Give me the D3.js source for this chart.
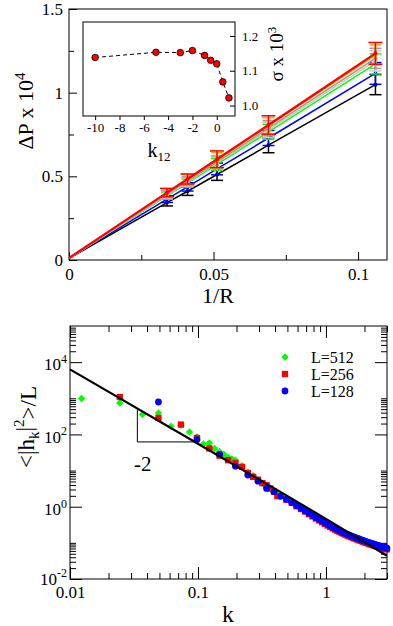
<!DOCTYPE html>
<html><head><meta charset="utf-8">
<script src="https://cdn.jsdelivr.net/npm/d3@7"></script>
<style>
body{margin:0;background:#fff}
svg{display:block}
text{font-family:"Liberation Serif","DejaVu Serif","Times New Roman",serif;fill:#000}
</style>
</head><body>
<svg id="c" width="393" height="626" style="font-family:'Liberation Serif','DejaVu Serif',serif"></svg>
<script>
// ---------- top panel data ----------
const invR = [0.0339, 0.041, 0.0512, 0.069, 0.106];
const seriesColors = ["#000000", "#0000ff", "#00ff00", "#c8c8c8", "#bc8f8f", "#ffa500", "#ff0000"];
const fitIntercept = [0.01, 0.01, 0.01, 0.01, 0.01, 0.01, 0.012];
const dpBlack  = [0.343, 0.411, 0.511, 0.686, 1.048];
const dpBlue   = [0.364, 0.437, 0.544, 0.729, 1.115];
const dpGreen  = [0.383, 0.459, 0.571, 0.766, 1.172];
const dpGrey   = [0.388, 0.466, 0.580, 0.778, 1.190];
const dpBrown  = [0.393, 0.472, 0.587, 0.788, 1.205];
const dpOrange = [0.400, 0.480, 0.597, 0.801, 1.225];
const dpRed    = [0.403, 0.484, 0.602, 0.807, 1.235];
const errBlack  = [0.02, 0.025, 0.035, 0.045, 0.06];
const errBlue   = [0.02, 0.025, 0.035, 0.045, 0.065];
const errGreen  = [0.02, 0.025, 0.035, 0.045, 0.06];
const errGrey   = [0.02, 0.025, 0.035, 0.045, 0.06];
const errBrown  = [0.02, 0.025, 0.035, 0.045, 0.06];
const errOrange = [0.025, 0.03, 0.045, 0.05, 0.06];
const errRed    = [0.025, 0.03, 0.05, 0.055, 0.065];
const topXTicks = [0, 0.05, 0.1];
const topXMinor = [0.025, 0.075];
const topYTicks = [0, 0.5, 1, 1.5];
const topYMinor = [0.25, 0.75, 1.25];

// inset
const k12 = [-10, -5, -3, -2, -1, -0.5, 0, 0.5, 1];
const sigma = [1.138, 1.153, 1.152, 1.158, 1.144, 1.130, 1.120, 1.068, 1.022];
const insetXTicks = [-10, -8, -6, -4, -2, 0];
const insetYTicks = [1.0, 1.1, 1.2];

// ---------- bottom panel data ----------
const k512 = [0.0123, 0.0245, 0.0368, 0.0491, 0.0614, 0.0736, 0.0859, 0.0982, 0.1104, 0.1227, 0.135, 0.1473, 0.1595, 0.1718, 0.1841, 0.1963, 0.2209, 0.2454, 0.27, 0.2945, 0.319, 0.3436, 0.3682, 0.3927, 0.4172, 0.4418];
const y512 = [980, 740, 355, 390, 169, 180, 117, 85, 54, 58, 41, 33, 28, 23, 21, 19.4, 13.5, 9.2, 7.2, 5.6, 4.4, 3.6, 3.1, 2.6, 2.2, 1.95];
const k256 = [0.0245, 0.0491, 0.0736, 0.0982, 0.1227, 0.1473, 0.1718, 0.1963, 0.2209, 0.2454, 0.27, 0.2945, 0.319, 0.3436, 0.3682, 0.3927, 0.4172];
const y256 = [1086, 286, 187, 80, 41, 26, 19.4, 16.2, 12.6, 8.5, 6.7, 5.6, 4.5, 3.9, 3.2, 2.6, 1.96];
const k128 = [0.0491, 0.0982, 0.1473, 0.1963, 0.2454, 0.2945, 0.3436, 0.3927, 0.4418];
const y128 = [790, 72, 28, 13.2, 7.5, 5.1, 3.2, 2.6, 1.96];
const kBand = [0.491, 0.540, 0.589, 0.638, 0.687, 0.736, 0.785, 0.834, 0.884, 0.933, 0.982, 1.031, 1.080, 1.129, 1.178, 1.227, 1.276, 1.325, 1.374, 1.423, 1.473, 1.522, 1.571, 1.620, 1.669, 1.718, 1.767, 1.816, 1.865, 1.914, 1.963, 2.012, 2.062, 2.111, 2.160, 2.209, 2.258, 2.307, 2.356, 2.405, 2.454, 2.503, 2.552, 2.601, 2.651, 2.700, 2.749, 2.798, 2.847, 2.896, 2.945, 2.994];
const yBand128 = [1.62, 1.32, 1.08, 0.909, 0.773, 0.664, 0.576, 0.506, 0.448, 0.400, 0.359, 0.325, 0.296, 0.271, 0.251, 0.232, 0.217, 0.203, 0.191, 0.181, 0.171, 0.163, 0.156, 0.149, 0.143, 0.138, 0.132, 0.128, 0.123, 0.119, 0.1155, 0.112, 0.108, 0.105, 0.102, 0.0994, 0.0969, 0.0945, 0.0922, 0.0901, 0.0880, 0.0862, 0.0844, 0.0828, 0.0811, 0.0796, 0.0781, 0.0766, 0.0753, 0.0739, 0.0726, 0.0714];
const yBand256 = [1.56, 1.27, 1.03, 0.864, 0.734, 0.624, 0.541, 0.471, 0.417, 0.372, 0.334, 0.302, 0.275, 0.252, 0.233, 0.216, 0.202, 0.189, 0.178, 0.168, 0.159, 0.152, 0.145, 0.139, 0.133, 0.128, 0.123, 0.119, 0.114, 0.111, 0.107, 0.104, 0.100, 0.0977, 0.0949, 0.0924, 0.0901, 0.0879, 0.0857, 0.0838, 0.0818, 0.0802, 0.0785, 0.0770, 0.0754, 0.0740, 0.0726, 0.0712, 0.0700, 0.0687, 0.0675, 0.0664];
const kTheory = [0.01, 0.1, 1, 3];
const yTheory = [6300, 55, 0.46, 0.044];
const slopeK = [0.0336, 0.0336, 0.098];
const slopeY = [480, 62, 62];
const legendLabels = ["L=512", "L=256", "L=128"];
const botXTicks = [0.01, 0.1, 1];
const botXMinor = [0.02,0.03,0.04,0.05,0.06,0.07,0.08,0.09,0.2,0.3,0.4,0.5,0.6,0.7,0.8,0.9,2,3];
const botYTicks = [1e-2, 1, 1e2, 1e4];
const botYMinor = [2e-2,3e-2,4e-2,5e-2,6e-2,7e-2,8e-2,9e-2,1e-1,2,3,4,5,6,7,8,9,10,200,300,400,500,600,700,800,900,1000,2e4,3e4,4e4,5e4,6e4,7e4,8e4,9e4];

// ---------- drawing ----------
const SERIF = '"Liberation Serif","DejaVu Serif","Times New Roman",serif';
const svg = d3.select("#c");

function styleAxis(g){
  g.attr("font-family", SERIF);
  g.select(".domain").remove();
  g.selectAll(".tick line").attr("stroke","#000").attr("stroke-width",1);
  g.selectAll("text").attr("font-family", SERIF).attr("fill","#000");
}

// ===== TOP PANEL =====
const xT = d3.scaleLinear().domain([0, 0.11]).range([69, 387]);
const yT = d3.scaleLinear().domain([0, 1.5]).range([260, 9]);
const gTop = svg.append("g");

gTop.append("g").attr("transform","translate(0,260)")
  .call(d3.axisBottom(xT).tickValues(topXTicks).tickSize(-8).tickPadding(8).tickFormat(d=>String(d)))
  .call(styleAxis).selectAll("text").attr("font-size","17px");
gTop.append("g").attr("transform","translate(0,260)")
  .call(d3.axisBottom(xT).tickValues(topXMinor).tickSize(-5).tickFormat(""))
  .call(styleAxis);
gTop.append("g").attr("transform","translate(69,0)")
  .call(d3.axisLeft(yT).tickValues(topYTicks).tickSize(-8).tickPadding(6).tickFormat(d=>String(d)))
  .call(styleAxis).selectAll("text").attr("font-size","17px");
gTop.append("g").attr("transform","translate(69,0)")
  .call(d3.axisLeft(yT).tickValues(topYMinor).tickSize(-5).tickFormat(""))
  .call(styleAxis);
gTop.append("rect").attr("x",xT(0)).attr("y",yT(1.5)).attr("width",xT(0.11)-xT(0)).attr("height",yT(0)-yT(1.5))
  .attr("fill","none").attr("stroke","#000").attr("stroke-width",1);

const dpSeries = [dpBlack, dpBlue, dpGreen, dpGrey, dpBrown, dpOrange, dpRed];
const errSeries = [errBlack, errBlue, errGreen, errGrey, errBrown, errOrange, errRed];
const lineT = d3.line().x(d=>xT(d[0])).y(d=>yT(d[1]));
dpSeries.forEach((vals, i) => {
  const col = seriesColors[i];
  const pts = [[0, fitIntercept[i]]].concat(invR.map((x,j)=>[x, vals[j]]));
  gTop.append("path").attr("d", lineT(pts)).attr("fill","none").attr("stroke",col)
    .attr("stroke-width", i===6 ? 2.2 : 1.5);
  const eg = gTop.append("g").attr("stroke",col).attr("stroke-width",1.5);
  const cw = i===6 ? 7 : 6;
  invR.forEach((x,j)=>{
    const v = vals[j], e = errSeries[i][j];
    eg.append("line").attr("x1",xT(x)).attr("x2",xT(x)).attr("y1",yT(v-e)).attr("y2",yT(v+e));
    eg.append("line").attr("x1",xT(x)-cw).attr("x2",xT(x)+cw).attr("y1",yT(v+e)).attr("y2",yT(v+e));
    eg.append("line").attr("x1",xT(x)-cw).attr("x2",xT(x)+cw).attr("y1",yT(v-e)).attr("y2",yT(v-e));
  });
  gTop.append("g").selectAll("circle").data(invR.map((x,j)=>[x, vals[j]])).join("circle")
    .attr("cx",d=>xT(d[0])).attr("cy",d=>yT(d[1])).attr("r",2).attr("fill",col);
});

gTop.append("text").attr("x",218).attr("y",303).attr("text-anchor","middle").attr("font-size","22px").text("1/R");
const ylT = gTop.append("text").attr("transform","translate(33,111) rotate(-90)").attr("text-anchor","middle").attr("font-size","22px");
ylT.append("tspan").text("ΔP x 10");
ylT.append("tspan").attr("dy","-0.55em").attr("font-size","15px").text("4");

// ----- inset -----
const xI = d3.scaleLinear().domain([-11, 1.5]).range([83, 235]);
const yI = d3.scaleLinear().domain([0.97, 1.24]).range([116, 22]);
const ins = svg.append("g");
ins.append("rect").attr("x",xI(-11)).attr("y",yI(1.24)).attr("width",xI(1.5)-xI(-11)).attr("height",yI(0.97)-yI(1.24))
  .attr("fill","#fff").attr("stroke","#000").attr("stroke-width",1);
ins.append("g").attr("transform",`translate(0,${yI(0.97)})`)
  .call(d3.axisBottom(xI).tickValues(insetXTicks).tickSize(4).tickPadding(3).tickFormat(d=>String(d)))
  .call(styleAxis).selectAll("text").attr("font-size","13px");
ins.append("g").attr("transform",`translate(${xI(1.5)},0)`)
  .call(d3.axisRight(yI).tickValues(insetYTicks).tickSize(-5).tickPadding(7).tickFormat(d3.format(".1f")))
  .call(styleAxis).selectAll("text").attr("font-size","13px");
ins.append("path").attr("d", d3.line().x(d=>xI(d[0])).y(d=>yI(d[1]))(d3.zip(k12, sigma)))
  .attr("fill","none").attr("stroke","#000").attr("stroke-width",1).attr("stroke-dasharray","4,3");
ins.selectAll("circle.s").data(d3.zip(k12, sigma)).join("circle").attr("class","s")
  .attr("cx",d=>xI(d[0])).attr("cy",d=>yI(d[1])).attr("r",3.3).attr("fill","#ff0000").attr("stroke","#000").attr("stroke-width",0.8);
const kl = ins.append("text").attr("x",159).attr("y",157).attr("text-anchor","middle").attr("font-size","20px");
kl.append("tspan").text("k");
kl.append("tspan").attr("dy","0.3em").attr("font-size","13px").text("12");
const sl = ins.append("text").attr("transform","translate(283,54) rotate(-90)").attr("text-anchor","middle").attr("font-size","19px");
sl.append("tspan").text("σ x 10");
sl.append("tspan").attr("dy","-0.55em").attr("font-size","13px").text("3");

// ===== BOTTOM PANEL =====
const xB = d3.scaleLog().domain([0.01, 3]).range([70, 387]);
const yB = d3.scaleLog().domain([1e-2, 1e5]).range([579, 326]);
const gBot = svg.append("g");

gBot.append("g").attr("transform","translate(0,579)")
  .call(d3.axisBottom(xB).tickValues(botXTicks).tickSize(-12).tickPadding(7).tickFormat(d=>String(d)))
  .call(styleAxis).selectAll("text").attr("font-size","17px");
gBot.append("g").attr("transform","translate(0,579)")
  .call(d3.axisBottom(xB).tickValues(botXMinor).tickSize(-6).tickFormat(""))
  .call(styleAxis);
gBot.append("g").attr("transform","translate(0,326)")
  .call(d3.axisTop(xB).tickValues(botXTicks).tickSize(-12).tickFormat(""))
  .call(styleAxis);
gBot.append("g").attr("transform","translate(0,326)")
  .call(d3.axisTop(xB).tickValues(botXMinor).tickSize(-6).tickFormat(""))
  .call(styleAxis);
const yAx = gBot.append("g").attr("transform","translate(70,0)")
  .call(d3.axisLeft(yB).tickValues(botYTicks).tickSize(-12).tickPadding(3).tickFormat(d=>"10"))
  .call(styleAxis);
yAx.selectAll(".tick text").each(function(d){
  const t = d3.select(this);
  t.text(null).attr("font-size","17px").attr("dy", d===1e-2 ? "0.3em" : "0.45em");
  t.append("tspan").text("10");
  t.append("tspan").attr("dy","-0.6em").attr("font-size","12px").text(String(Math.round(Math.log10(d))));
});
gBot.append("g").attr("transform","translate(70,0)")
  .call(d3.axisLeft(yB).tickValues(botYMinor).tickSize(-6).tickFormat(""))
  .call(styleAxis);
gBot.append("g").attr("transform","translate(387,0)")
  .call(d3.axisRight(yB).tickValues(botYTicks).tickSize(-12).tickFormat(""))
  .call(styleAxis);
gBot.append("g").attr("transform","translate(387,0)")
  .call(d3.axisRight(yB).tickValues(botYMinor).tickSize(-6).tickFormat(""))
  .call(styleAxis);
gBot.append("rect").attr("x",70).attr("y",326).attr("width",317).attr("height",253)
  .attr("fill","none").attr("stroke","#000").attr("stroke-width",1);

const diamond = d3.symbol().type(d3.symbolSquare).size(28)();
const square = d3.symbol().type(d3.symbolSquare).size(40)();
gBot.append("g").selectAll("path").data(d3.zip(k512, y512)).join("path")
  .attr("d", diamond).attr("transform", d=>`translate(${xB(d[0])},${yB(d[1])}) rotate(45)`).attr("fill","#00ff00");
gBot.append("g").selectAll("path").data(d3.zip(k256, y256).concat(d3.zip(kBand, yBand256))).join("path")
  .attr("d", square).attr("transform", d=>`translate(${xB(d[0])},${yB(d[1])})`).attr("fill","#ff0000");
gBot.append("g").selectAll("circle").data(d3.zip(k128, y128).concat(d3.zip(kBand, yBand128))).join("circle")
  .attr("cx", d=>xB(d[0])).attr("cy", d=>yB(d[1])).attr("r",3.4).attr("fill","#0000ff");

gBot.append("path").attr("d", d3.line().x(d=>xB(d[0])).y(d=>yB(d[1])).curve(d3.curveMonotoneX)(d3.zip(kTheory, yTheory)))
  .attr("fill","none").attr("stroke","#000").attr("stroke-width",2.2);
gBot.append("path").attr("d", d3.line().x(d=>xB(d[0])).y(d=>yB(d[1]))(d3.zip(slopeK, slopeY)))
  .attr("fill","none").attr("stroke","#000").attr("stroke-width",1);
gBot.append("text").attr("x", xB(0.037)).attr("y", yB(10)).attr("text-anchor","middle").attr("font-size","21px").text("-2");

// legend
const legY = [357, 374, 391];
const lg = gBot.append("g");
lg.append("path").attr("d", diamond).attr("transform",`translate(285,${legY[0]}) rotate(45)`).attr("fill","#00ff00");
lg.append("path").attr("d", square).attr("transform",`translate(285,${legY[1]})`).attr("fill","#ff0000");
lg.append("circle").attr("cx",285).attr("cy",legY[2]).attr("r",3.4).attr("fill","#0000ff");
lg.selectAll("text").data(legendLabels).join("text").attr("x",311).attr("y",(d,i)=>legY[i]+6)
  .attr("font-size","16px").text(d=>d);

gBot.append("text").attr("x",228).attr("y",622).attr("text-anchor","middle").attr("font-size","24px").text("k");
const ylB = gBot.append("text").attr("transform","translate(34,427) rotate(-90)").attr("text-anchor","middle").attr("font-size","23px");
ylB.append("tspan").text("<|h");
ylB.append("tspan").attr("dy","0.3em").attr("font-size","15px").text("k");
ylB.append("tspan").attr("dy","-0.3em").text("|");
ylB.append("tspan").attr("dy","-0.5em").attr("font-size","15px").text("2");
ylB.append("tspan").attr("dy","0.5em").text(">/L");
</script>
</body></html>
